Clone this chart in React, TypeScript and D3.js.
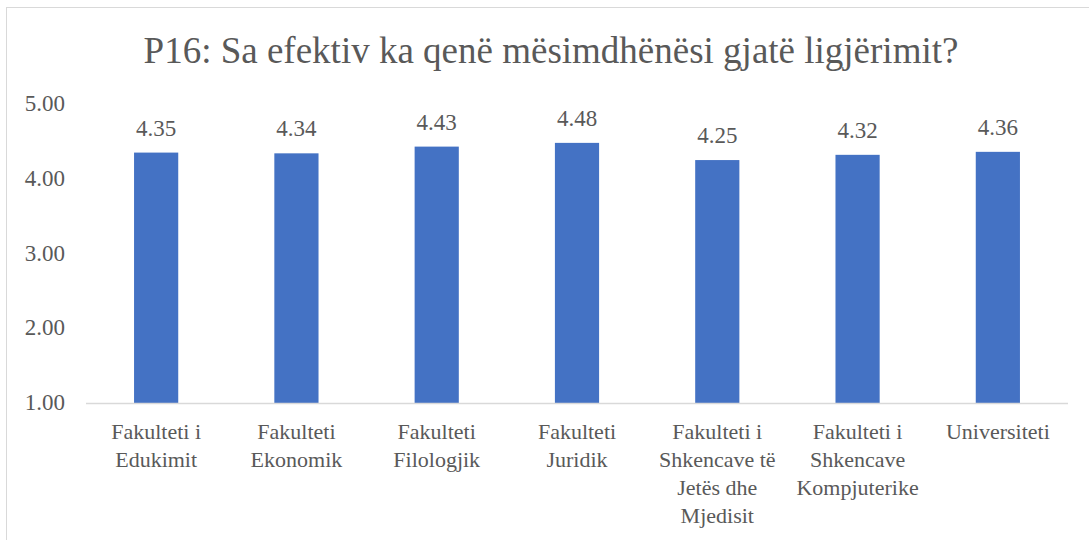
import { useRef, useEffect } from "react";
import * as d3 from "d3";

const TITLE = "P16: Sa efektiv ka qenë mësimdhënësi gjatë ligjërimit?";

const categories = [
  "Fakulteti i Edukimit",
  "Fakulteti Ekonomik",
  "Fakulteti Filologjik",
  "Fakulteti Juridik",
  "Fakulteti i Shkencave të Jetës dhe Mjedisit",
  "Fakulteti i Shkencave Kompjuterike",
  "Universiteti",
];

// how the category labels wrap in the picture
const categoryLines = [
  ["Fakulteti i", "Edukimit"],
  ["Fakulteti", "Ekonomik"],
  ["Fakulteti", "Filologjik"],
  ["Fakulteti", "Juridik"],
  ["Fakulteti i", "Shkencave të", "Jetës dhe", "Mjedisit"],
  ["Fakulteti i", "Shkencave", "Kompjuterike"],
  ["Universiteti"],
];

const values = [4.35, 4.34, 4.43, 4.48, 4.25, 4.32, 4.36];

const yTicks = [1, 2, 3, 4, 5];

const FONT = "Liberation Serif, Times New Roman, serif";
const TEXT = "#595959";
const BAR = "#4472C4";

export default function App() {
  const ref = useRef<SVGSVGElement>(null);

  useEffect(() => {
    if (!ref.current) return;
    const W = 1089;
    const H = 540;
    const margin = { top: 104, right: 21, bottom: 137, left: 86 };
    const w = W - margin.left - margin.right;
    const h = H - margin.top - margin.bottom;

    const svg = d3.select(ref.current);
    svg.selectAll("*").remove();

    // chart outline
    svg.append("rect").attr("x", 6.5).attr("y", 7.5).attr("width", W).attr("height", H)
      .attr("fill", "#fff").attr("stroke", "#d9d9d9").attr("stroke-width", 1);

    svg.append("text").attr("x", 551).attr("y", 63).attr("text-anchor", "middle")
      .attr("font-family", FONT).attr("font-size", 37).attr("fill", TEXT).text(TITLE);

    const g = svg.append("g").attr("transform", `translate(${margin.left},${margin.top})`);

    const x = d3.scaleBand<string>().domain(categories).range([0, w]).paddingInner(0.685).paddingOuter(0.3425);
    const y = d3.scaleLinear().domain([1, 5]).range([h, 0]);

    // y tick labels
    g.selectAll(".ytick").data(yTicks).join("text")
      .attr("x", -21).attr("y", (d) => y(d) + 7)
      .attr("text-anchor", "end").attr("font-family", FONT).attr("font-size", 23).attr("fill", TEXT)
      .text((d) => d.toFixed(2));

    // bars
    g.selectAll(".bar").data(values).join("rect")
      .attr("x", (_, i) => x(categories[i])!)
      .attr("y", (d) => y(d))
      .attr("width", x.bandwidth())
      .attr("height", (d) => h - y(d))
      .attr("fill", BAR);

    // baseline
    g.append("line").attr("x1", 0).attr("x2", w).attr("y1", h + 0.5).attr("y2", h + 0.5)
      .attr("stroke", "#d9d9d9").attr("stroke-width", 1.5);

    // data labels
    g.selectAll(".lbl").data(values).join("text")
      .attr("x", (_, i) => x(categories[i])! + x.bandwidth() / 2)
      .attr("y", (d) => y(d) - 17)
      .attr("text-anchor", "middle").attr("font-family", FONT).attr("font-size", 23).attr("fill", TEXT)
      .text((d) => d.toFixed(2));

    // category labels
    categoryLines.forEach((lines, i) => {
      const cx = x(categories[i])! + x.bandwidth() / 2;
      const t = g.append("text").attr("x", cx).attr("y", h + 36).attr("text-anchor", "middle")
        .attr("font-family", FONT).attr("font-size", 22).attr("fill", TEXT);
      lines.forEach((l, j) => {
        t.append("tspan").attr("x", cx).attr("dy", j === 0 ? 0 : 28).text(l);
      });
    });
  }, []);

  return (
    <svg ref={ref} width={1089} height={540}
      style={{ display: "block", position: "absolute", left: 0, top: 0 }} />
  );
}
